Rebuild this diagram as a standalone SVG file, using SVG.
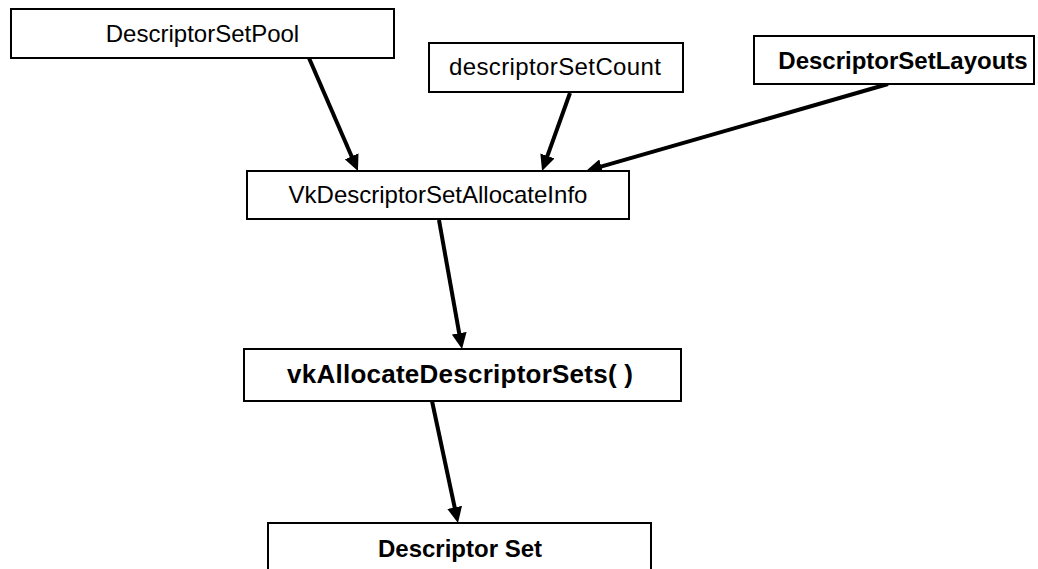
<svg xmlns="http://www.w3.org/2000/svg" width="1038" height="569" viewBox="0 0 1038 569">
  <defs>
    <marker id="ah" markerUnits="userSpaceOnUse" markerWidth="16" markerHeight="15" viewBox="0 0 16 15" refX="4" refY="7.5" orient="auto">
      <path d="M0,0 L16,7.5 L0,15 z" fill="#000"/>
    </marker>
    <style>
      .box { fill: #fff; stroke: #000; stroke-width: 2; }
      .t { font-family: "Liberation Sans", Arial, sans-serif; font-size: 24px; fill: #000; text-anchor: middle; }
      .b { font-weight: bold; }
      .c { stroke: #000; stroke-width: 4; fill: none; marker-end: url(#ah); }
    </style>
  </defs>
  <rect width="1038" height="569" fill="#fff"/>
  <g id="connectors">
    <line class="c" x1="309" y1="58" x2="353.2" y2="160.0"/>
    <line class="c" x1="570" y1="93" x2="546.1" y2="159.7"/>
    <line class="c" x1="888" y1="84" x2="597.5" y2="167.7"/>
    <line class="c" x1="439" y1="220" x2="459.9" y2="337.2"/>
    <line class="c" x1="432" y1="401" x2="455.5" y2="511.3"/>
  </g>
  <g id="node-pool">
    <rect class="box" x="11" y="9" width="383" height="49"/>
    <text class="t" x="202.5" y="42">DescriptorSetPool</text>
  </g>
  <g id="node-count">
    <rect class="box" x="429" y="43" width="254" height="49"/>
    <text class="t" x="555" y="75" textLength="212" lengthAdjust="spacing">descriptorSetCount</text>
  </g>
  <g id="node-layouts">
    <rect class="box" x="754" y="36" width="280" height="48"/>
    <text class="t b" x="903" y="69">DescriptorSetLayouts</text>
  </g>
  <g id="node-info">
    <rect class="box" x="247" y="171" width="382" height="48"/>
    <text class="t" x="438" y="203">VkDescriptorSetAllocateInfo</text>
  </g>
  <g id="node-allocate">
    <rect class="box" x="244" y="349" width="437" height="52"/>
    <text class="t b" x="460" y="383" style="font-size:26px" textLength="346" lengthAdjust="spacing">vkAllocateDescriptorSets( )</text>
  </g>
  <g id="node-set">
    <rect class="box" x="268" y="523" width="383" height="50"/>
    <text class="t b" x="460" y="557">Descriptor Set</text>
  </g>
</svg>
